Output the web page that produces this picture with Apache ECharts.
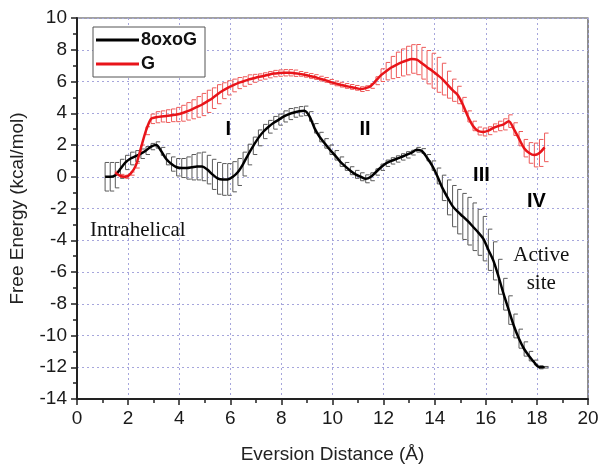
<!DOCTYPE html>
<html>
<head>
<meta charset="utf-8">
<script src="https://cdn.jsdelivr.net/npm/echarts@6/dist/echarts.min.js"></script>
<style>html,body{margin:0;padding:0;background:#fff}#c{width:604px;height:469px}</style>
</head>
<body>
<div id="c"></div>
<script>
// ---- data ----
const blackX = [1.1,1.3,1.5,1.7,1.9,2.1,2.3,2.5,2.7,2.9,3.1,3.3,3.5,3.7,3.9,4.1,4.3,4.5,4.7,4.9,5.1,5.3,5.5,5.7,5.9,6.1,6.3,6.5,6.7,6.9,7.1,7.3,7.5,7.7,7.9,8.1,8.3,8.5,8.7,8.9,9.1,9.3,9.5,9.7,9.9,10.1,10.3,10.5,10.7,10.9,11.1,11.3,11.5,11.7,11.9,12.1,12.3,12.5,12.7,12.9,13.1,13.3,13.5,13.7,13.9,14.1,14.3,14.5,14.7,14.9,15.1,15.3,15.5,15.7,15.9,16.1,16.3,16.5,16.7,16.9,17.1,17.3,17.5,17.7,17.9,18.1,18.3];
const blackY = [0.0,0.0,0.1,0.5,0.9,1.15,1.3,1.45,1.65,1.9,2.0,1.6,1.1,0.8,0.6,0.55,0.55,0.6,0.65,0.65,0.45,0.15,-0.1,-0.17,-0.17,0.0,0.3,0.8,1.4,1.95,2.45,2.85,3.15,3.4,3.6,3.8,3.95,4.05,4.12,4.15,3.8,3.05,2.5,2.1,1.7,1.35,0.95,0.65,0.38,0.15,0.0,-0.13,0.0,0.3,0.6,0.85,1.0,1.12,1.25,1.38,1.52,1.7,1.62,1.2,0.7,0.05,-0.7,-1.3,-1.85,-2.2,-2.5,-2.8,-3.15,-3.5,-3.9,-4.6,-5.3,-6.3,-7.4,-8.4,-9.4,-10.2,-10.85,-11.3,-11.7,-12.0,-12.0];
const blackErr = [0.9,0.9,0.8,0.6,0.45,0.4,0.35,0.3,0.25,0.2,0.2,0.25,0.35,0.45,0.55,0.6,0.7,0.8,0.85,0.9,0.9,0.95,1.0,1.0,1.0,0.95,0.85,0.75,0.65,0.55,0.5,0.45,0.4,0.4,0.35,0.35,0.35,0.3,0.3,0.3,0.3,0.3,0.3,0.3,0.3,0.3,0.3,0.25,0.25,0.25,0.25,0.25,0.25,0.2,0.2,0.2,0.2,0.2,0.2,0.2,0.15,0.15,0.15,0.2,0.3,0.5,0.8,1.1,1.3,1.4,1.45,1.5,1.5,1.45,1.4,1.3,1.2,1.1,1.0,0.9,0.75,0.6,0.45,0.3,0.15,0.1,0.05];

const redX = [1.5,1.7,1.9,2.1,2.3,2.5,2.7,2.9,3.1,3.3,3.5,3.7,3.9,4.1,4.3,4.5,4.7,4.9,5.1,5.3,5.5,5.7,5.9,6.1,6.3,6.5,6.7,6.9,7.1,7.3,7.5,7.7,7.9,8.1,8.3,8.5,8.7,8.9,9.1,9.3,9.5,9.7,9.9,10.1,10.3,10.5,10.7,10.9,11.1,11.3,11.5,11.7,11.9,12.1,12.3,12.5,12.7,12.9,13.1,13.3,13.5,13.7,13.9,14.1,14.3,14.5,14.7,14.9,15.1,15.3,15.5,15.7,15.9,16.1,16.3,16.5,16.7,16.9,17.1,17.3,17.5,17.7,17.9,18.1,18.3];
const redY = [0.25,0.05,0.0,0.2,0.7,1.8,2.9,3.65,3.75,3.8,3.82,3.87,3.92,4.0,4.12,4.25,4.4,4.55,4.75,4.95,5.2,5.42,5.6,5.75,5.9,6.0,6.12,6.2,6.28,6.35,6.43,6.5,6.53,6.55,6.55,6.52,6.48,6.42,6.35,6.28,6.18,6.1,5.98,5.88,5.8,5.72,5.66,5.6,5.52,5.58,5.72,6.05,6.4,6.65,6.88,7.05,7.2,7.32,7.42,7.38,7.15,6.9,6.68,6.42,6.15,5.8,5.45,5.15,4.55,3.8,3.2,2.88,2.82,2.9,3.08,3.2,3.3,3.5,3.0,2.4,1.8,1.5,1.37,1.5,1.85];
const redErr = [0.1,0.1,0.1,0.1,0.15,0.2,0.25,0.3,0.35,0.35,0.4,0.4,0.45,0.5,0.55,0.6,0.65,0.7,0.7,0.65,0.6,0.5,0.45,0.4,0.35,0.3,0.3,0.25,0.2,0.2,0.2,0.2,0.2,0.2,0.2,0.2,0.15,0.15,0.15,0.15,0.15,0.15,0.15,0.15,0.15,0.15,0.15,0.15,0.15,0.15,0.15,0.25,0.4,0.55,0.7,0.8,0.85,0.9,0.9,0.95,1.0,1.05,1.1,1.1,1.0,0.85,0.7,0.55,0.45,0.35,0.3,0.25,0.25,0.25,0.25,0.3,0.35,0.4,0.4,0.45,0.55,0.65,0.75,0.85,0.9];

const seriesNames = ['8oxoG', 'G'];
const xTicks = [0,2,4,6,8,10,12,14,16,18,20];
const yTicks = [-14,-12,-10,-8,-6,-4,-2,0,2,4,6,8,10];

const romanLabels = ['I', 'II', 'III', 'IV'];
const romanPos = [[5.92, 2.95], [11.27, 2.95], [15.83, 0.1], [17.98, -1.58]];
const serifLabels = ['Intrahelical', 'Active', 'site'];
const serifPos = [[2.38, -3.37], [18.17, -4.95], [18.17, -6.7]];

// ---- build ----
const zip = (xs, ys) => xs.map((x, i) => [x, ys[i]]);
const errData = (xs, ys, es) => xs.map((x, i) => [x, ys[i] - es[i], ys[i] + es[i]]);

function errRender(color) {
  return function (params, api) {
    const x = api.value(0);
    const lo = api.coord([x, api.value(1)]);
    const hi = api.coord([x, api.value(2)]);
    const cap = 4;
    const st = { stroke: color, lineWidth: 1 };
    return {
      type: 'group',
      children: [
        { type: 'line', shape: { x1: lo[0], y1: lo[1], x2: hi[0], y2: hi[1] }, style: st },
        { type: 'line', shape: { x1: lo[0], y1: lo[1], x2: lo[0] + cap, y2: lo[1] }, style: st },
        { type: 'line', shape: { x1: hi[0], y1: hi[1], x2: hi[0] + cap, y2: hi[1] }, style: st }
      ]
    };
  };
}

const chart = echarts.init(document.getElementById('c'), null, { renderer: 'canvas' });
const axisFont = 'Liberation Sans, Arial, sans-serif';
const serif = 'Liberation Serif, Times New Roman, serif';

const option = {
  backgroundColor: '#fff',
  animation: false,
  grid: { left: 77, right: 16, top: 18, bottom: 70, show: true, borderColor: '#444', borderWidth: 1.2, backgroundColor: 'transparent' },
  legend: {
    data: seriesNames.map(n => ({ name: n, icon: 'rect' })),
    orient: 'vertical',
    left: 93, top: 27,
    itemWidth: 43, itemHeight: 3, itemGap: 6,
    borderColor: '#555', borderWidth: 1,
    padding: [4, 8, 4, 3],
    backgroundColor: '#fff',
    textStyle: { fontSize: 18, fontWeight: 'bold', color: '#111', fontFamily: axisFont, padding: [0, 0, 0, -3] }
  },
  xAxis: {
    type: 'value', min: xTicks[0], max: xTicks[xTicks.length - 1], interval: 2,
    name: 'Eversion Distance (Å)', nameLocation: 'middle', nameGap: 46,
    nameTextStyle: { fontSize: 19, color: '#222', fontFamily: axisFont },
    axisLine: { onZero: false, lineStyle: { color: '#222', width: 2 } },
    axisTick: { show: true, inside: false, length: 6, lineStyle: { color: '#222', width: 1.5 } },
    minorTick: { show: true, splitNumber: 2, length: 4, lineStyle: { color: '#222', width: 1.5 } },
    axisLabel: { fontSize: 19, color: '#1a1a1a', fontFamily: axisFont, margin: 10 },
    splitLine: { show: true, lineStyle: { color: '#a6a6dc', type: [2, 3], width: 1 } }
  },
  yAxis: {
    type: 'value', min: yTicks[0], max: yTicks[yTicks.length - 1], interval: 2,
    name: 'Free Energy (kcal/mol)', nameLocation: 'middle', nameGap: 50,
    nameTextStyle: { fontSize: 19, color: '#222', fontFamily: axisFont },
    axisLine: { onZero: false, lineStyle: { color: '#222', width: 2 } },
    axisTick: { show: true, inside: false, length: 6, lineStyle: { color: '#222', width: 1.5 } },
    minorTick: { show: true, splitNumber: 2, length: 4, lineStyle: { color: '#222', width: 1.5 } },
    axisLabel: { fontSize: 19, color: '#1a1a1a', fontFamily: axisFont, margin: 10 },
    splitLine: { show: true, lineStyle: { color: '#a6a6dc', type: [2, 3], width: 1 } }
  },
  series: [
    { name: 'errB', type: 'custom', renderItem: errRender('#5a5a5a'), data: errData(blackX, blackY, blackErr), z: 2, silent: true },
    { name: 'errR', type: 'custom', renderItem: errRender('#ee5a5a'), data: errData(redX, redY, redErr), z: 2, silent: true },
    { name: seriesNames[0], type: 'line', data: zip(blackX, blackY), smooth: 0.3, showSymbol: false, symbol: 'none',
      lineStyle: { color: '#000', width: 2.5 }, itemStyle: { color: '#000' }, z: 5 },
    { name: seriesNames[1], type: 'line', data: zip(redX, redY), smooth: 0.3, showSymbol: false, symbol: 'none',
      lineStyle: { color: '#e8141a', width: 2.5 }, itemStyle: { color: '#e8141a' }, z: 5 },
    { name: 'roman', type: 'scatter', symbolSize: 0, silent: true, z: 6, itemStyle: { opacity: 1 },
      data: romanPos.map((p, i) => ({ value: p, label: { formatter: romanLabels[i] } })),
      label: { show: true, position: 'inside', fontSize: 20, fontWeight: 'bold', color: '#000', opacity: 1, fontFamily: axisFont } },
    { name: 'serif', type: 'scatter', symbolSize: 0, silent: true, z: 6, itemStyle: { opacity: 1 },
      data: serifPos.map((p, i) => ({ value: p, label: { formatter: serifLabels[i] } })),
      label: { show: true, position: 'inside', fontSize: 21, color: '#111', opacity: 1, fontFamily: serif } }
  ]
};
chart.setOption(option);
</script>
</body>
</html>
